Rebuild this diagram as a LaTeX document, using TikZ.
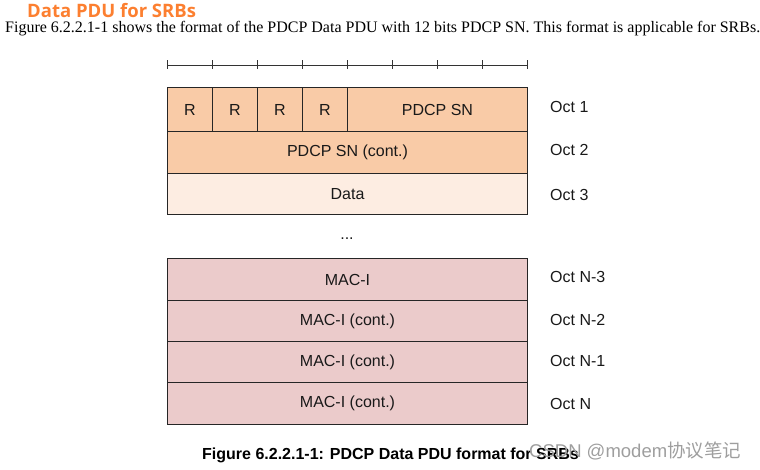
\documentclass[tikz,border=0pt]{standalone}
\usepackage{fontspec}
\setmainfont{Liberation Serif}
\setsansfont{Liberation Sans}
\newfontfamily\headfont{Open Sans}
\newfontfamily\cjkfont{Noto Sans CJK SC}
\definecolor{headorange}{HTML}{FC7F30}
\definecolor{snfill}{HTML}{F9CBA7}
\definecolor{datafill}{HTML}{FDEDE2}
\definecolor{macfill}{HTML}{EBCBCB}
\newcommand{\px}[1]{\fontsize{#1}{#1}\selectfont}

\begin{document}
\begin{tikzpicture}[x=1pt, y=-1pt,
  field/.style={draw=black!85, line width=1pt, inner sep=0pt, anchor=north west,
    text=black!90, font=\sffamily\px{16}},
  octet/.style={anchor=west, inner sep=0pt, text=black!90, font=\sffamily\px{16}},
  textline/.style={anchor=base west, inner sep=0pt}]
\useasboundingbox (0,0) rectangle (760,469);

% heading and intro sentence
\node [textline, text=headorange, font=\headfont\bfseries\px{18.5}] (head) at (27,17) {Data PDU for SRBs};
\node [textline, font=\px{16}] (intro) at (5,32)
  {Figure 6.2.2.1-1 shows the format of the PDCP Data PDU with 12 bits PDCP SN. This format is applicable for SRBs.};

% bit ruler
\draw [black!80, line width=0.8pt] (167,65) -- (527,65);
\foreach \i in {0,...,8}
  \draw [black!80, line width=0.8pt] (167+45*\i,60) -- (167+45*\i,69);

% octets
\foreach \i in {0,...,3}
  \node [field, fill=snfill, minimum width=45pt, minimum height=45pt] (r\i) at (167+45*\i,87) {R};
\node [field, fill=snfill, minimum width=180pt, minimum height=45pt] (sn) at (347,87) {PDCP SN};
\node [field, fill=snfill, minimum width=360pt, minimum height=42pt] (sncont) at (167,131) {PDCP SN (cont.)};
\node [field, fill=datafill, minimum width=360pt, minimum height=41pt] (data) at (167,173) {Data};
\node [anchor=base, inner sep=0pt, text=black!90, font=\sffamily\px{16}] (dots) at (347,239) {...};
\node [field, fill=macfill, minimum width=360pt, minimum height=42pt] (mac0) at (167,258) {MAC-I};
\node [field, fill=macfill, minimum width=360pt, minimum height=41pt] (mac1) at (167,300) {MAC-I (cont.)};
\node [field, fill=macfill, minimum width=360pt, minimum height=41pt] (mac2) at (167,341) {MAC-I (cont.)};
\node [field, fill=macfill, minimum width=360pt, minimum height=42pt] (mac3) at (167,382) {MAC-I (cont.)};

% octet numbers
\node [octet] (o1) at (550,107) {Oct 1};
\node [octet] (o2) at (550,150) {Oct 2};
\node [octet] (o3) at (550,195) {Oct 3};
\node [octet] (on3) at (550,277) {Oct N-3};
\node [octet] (on2) at (550,320) {Oct N-2};
\node [octet] (on1) at (550,361) {Oct N-1};
\node [octet] (on) at (550,404) {Oct N};

% caption
\node [textline, font=\sffamily\bfseries\px{16}] (caption) at (202,459) {Figure 6.2.2.1-1: PDCP Data PDU format for SRBs};
\node [textline, text=black!38, font=\sffamily\px{18.5}] (mark) at (529,457) {CSDN @modem{\cjkfont 协议笔记}};
\end{tikzpicture}
\end{document}
